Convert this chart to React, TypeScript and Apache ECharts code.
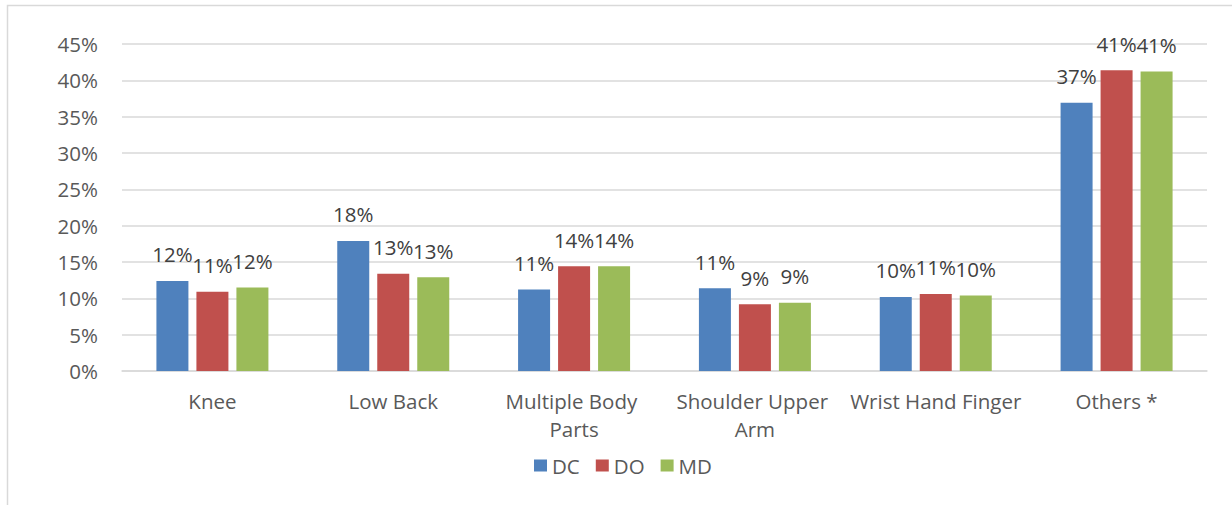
import React, { useEffect, useRef } from "react";
import * as echarts from "echarts";

const categories = ["Knee", "Low Back", "Multiple Body Parts", "Shoulder Upper Arm", "Wrist Hand Finger", "Others *"];
const seriesNames = ["DC", "DO", "MD"];
const dcValues = [12.4, 17.9, 11.2, 11.4, 10.2, 36.9];
const doValues = [10.9, 13.4, 14.4, 9.2, 10.6, 41.4];
const mdValues = [11.5, 12.9, 14.4, 9.4, 10.4, 41.2];
const colors = ["#4f81bd", "#c0504d", "#9bbb59"];
const yTicks = [0, 5, 10, 15, 20, 25, 30, 35, 40, 45];

const FONT = "Open Sans";
const FS = 20.5;

export default function App() {
  const ref = useRef<HTMLDivElement>(null);
  useEffect(() => {
    const chart = echarts.init(ref.current!, null, { renderer: "svg" });
    const data = [dcValues, doValues, mdValues];
    chart.setOption({
      animation: false,
      textStyle: { fontFamily: FONT },
      graphic: [
        {
          type: "rect",
          shape: { x: 7.5, y: 5.5, width: 1400, height: 600 },
          style: { fill: "none", stroke: "#d9d9d9", lineWidth: 1.5 },
          silent: true,
        },
      ],
      grid: { left: 122, right: 25, top: 44, bottom: 134 },
      legend: {
        data: seriesNames,
        bottom: 24,
        left: 529,
        itemWidth: 13,
        itemHeight: 12,
        itemGap: 16,
        itemTextGap: 5,
        icon: "rect",
        textStyle: { fontSize: FS, color: "#595959", fontFamily: FONT },
      },
      xAxis: {
        type: "category",
        data: categories,
        axisLine: { lineStyle: { color: "#d9d9d9", width: 1.5 } },
        axisTick: { show: false },
        axisLabel: {
          fontSize: FS,
          color: "#595959",
          margin: 16,
          lineHeight: 28,
          width: 178,
          overflow: "break",
          interval: 0,
        },
      },
      yAxis: {
        type: "value",
        min: 0,
        max: 45,
        interval: 5,
        axisLine: { show: false },
        axisTick: { show: false },
        splitLine: { lineStyle: { color: "#d9d9d9", width: 1.5 } },
        axisLabel: {
          fontSize: FS,
          color: "#595959",
          margin: 24,
          formatter: (v: number) => (yTicks.includes(v) ? v + "%" : ""),
        },
      },
      series: seriesNames.map((name, i) => ({
        name,
        type: "bar",
        data: data[i],
        barWidth: 32,
        barGap: "25%",
        itemStyle: { color: colors[i] },
        label: {
          show: true,
          position: "top",
          distance: 16,
          fontSize: FS,
          color: "#404040",
          fontFamily: FONT,
          formatter: (p: any) => Math.round(p.value) + "%",
        },
      })),
    });
    return () => chart.dispose();
  }, []);
  return (
    <div
      ref={ref}
      style={{ position: "absolute", left: 0, top: 0, width: 1232, height: 505 }}
    />
  );
}
